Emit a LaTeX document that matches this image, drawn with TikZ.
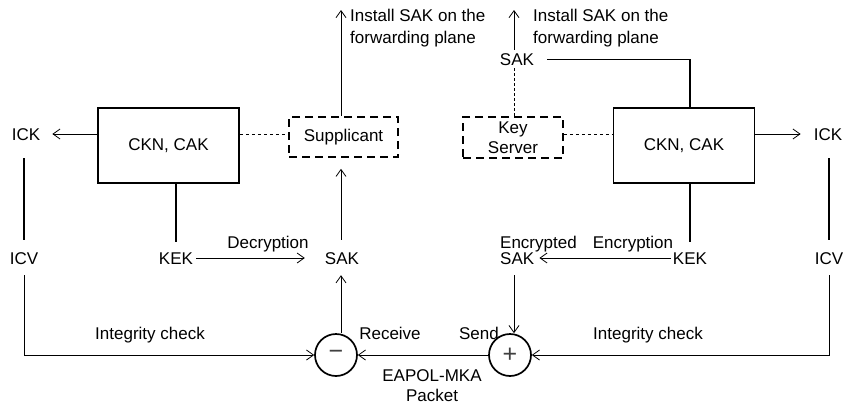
\documentclass[tikz,border=0pt]{standalone}
\usepackage{fontspec}
\setmainfont{Liberation Sans}
\usetikzlibrary{arrows.meta}
\begin{document}
\begin{tikzpicture}[x=1pt,y=-1pt,
  font=\fontsize{17}{21}\selectfont,
  lbl/.style={inner sep=0pt, text height=12pt, text depth=0pt},
  multi/.style={inner sep=0pt, align=center},
  keybox/.style={draw, line width=1.7pt, minimum width=141pt, minimum height=75pt, inner sep=0pt},
  rolebox/.style={draw, line width=1.6pt, dash pattern=on 8pt off 5pt, inner sep=0pt, align=center},
  opcircle/.style={draw, circle, line width=1.7pt, minimum size=42pt, inner sep=0pt,
    font=\fontsize{25}{25}\selectfont, text=black!75},
  conn/.style={line width=0.8pt},
  heavy/.style={line width=1.6pt},
  arr/.style={-{Straight Barb[length=7pt,width=10pt]}},
  link/.style={line width=0.9pt, dash pattern=on 3.5pt off 2.5pt},
  fine/.style={line width=0.8pt, dash pattern=on 3pt off 2pt}]
\useasboundingbox (0,0) rectangle (847,405);

% key hierarchy boxes
\node[keybox] (boxL) at (168.5,145.5) {CKN, CAK};
\node[keybox] (boxR) at (684,145.5) {CKN, CAK};
\node[rolebox, minimum width=109pt, minimum height=40pt] (supp) at (343.5,137) {Supplicant};
\node[rolebox, minimum width=100pt, minimum height=41pt, font=\fontsize{17}{20}\selectfont] (ks) at (513,137.5) {Key\\Server};

% derived keys
\node[lbl] (ickL) at (26,134) {ICK};
\node[lbl] (icvL) at (24,258) {ICV};
\node[lbl] (kekL) at (176,258) {KEK};
\node[lbl] (sakL) at (342,258) {SAK};
\node[lbl] (ickR) at (828,134) {ICK};
\node[lbl] (icvR) at (829,258) {ICV};
\node[lbl] (kekR) at (690,258) {KEK};
\node[lbl] (sakTop) at (517,59) {SAK};
\node[lbl, anchor=west] (encsak) at (500,258) {SAK};
\node[lbl, anchor=west] (enctxt) at (500,242) {Encrypted};

% send / receive operators
\node[opcircle] (minus) at (336,355) {−};
\node[opcircle] (plus) at (510,355) {+};

% free ends of the install arrows
\coordinate (instL) at (341,10);
\coordinate (instR) at (514,10);

% text labels
\node[multi, align=left, anchor=west, font=\fontsize{17}{22}\selectfont] (instLtxt) at (350,28) {Install SAK on the\\forwarding plane};
\node[multi, align=left, anchor=west, font=\fontsize{17}{22}\selectfont] (instRtxt) at (533,28) {Install SAK on the\\forwarding plane};
\node[lbl] (dec) at (268,242) {Decryption};
\node[lbl] (enc) at (633,242) {Encryption};
\node[lbl] (intL) at (150,333) {Integrity check};
\node[lbl] (intR) at (648,333) {Integrity check};
\node[lbl] (recv) at (390,333) {Receive};
\node[lbl] (send) at (479,333) {Send};
\node[multi, font=\fontsize{17}{20}\selectfont] (eapol) at (432,386) {EAPOL-MKA\\Packet};

% supplicant side
\draw[conn,arr,shorten >=12pt] (boxL.west |- ickL) -- (ickL.east);
\draw[link] (boxL.east |- ickL) -- (supp.west |- ickL);
\draw[heavy,shorten <=18pt,shorten >=12pt] (ickL.south -| icvL) -- (icvL.north);
\draw[heavy,shorten >=10pt] (kekL.north |- boxL.south) -- (kekL.north);
\draw[conn,arr,shorten <=3pt,shorten >=20pt] (kekL.east) -- (sakL.west);
\draw[conn,arr,shorten >=11pt] (instL |- minus.north) -- (instL |- sakL.south);
\draw[conn,arr,shorten <=12pt,shorten >=11pt] (instL |- sakL.north) -- (instL |- supp.south);
\draw[conn,arr] (instL |- supp.north) -- (instL);
\draw[conn,arr,shorten <=11pt] (icvL.south) |- (minus.west);

% key server side
\draw[conn,arr,shorten >=13pt] (boxR.east |- ickR) -- (ickR.west);
\draw[link] (ks.east |- ickR) -- (boxR.west |- ickR);
\draw[heavy,shorten <=18pt,shorten >=12pt] (ickR.south -| icvR) -- (icvR.north);
\draw[heavy,shorten >=10pt] (kekR.north |- boxR.south) -- (kekR.north);
\draw[conn,arr,shorten <=2pt,shorten >=5pt] (kekR.west) -- (encsak.east);
\draw[conn,arr,shorten <=11pt] (instR |- encsak.south) -- (instR |- plus.north);
\draw[fine,shorten >=3pt] (instR |- ks.north) -- (instR |- sakTop.south);
\draw[conn,arr,shorten <=3pt] (instR |- sakTop.north) -- (instR);
\draw[conn,shorten <=13pt] (sakTop.east) -- (kekR |- sakTop);
\draw[heavy] (kekR |- sakTop) -- (kekR |- boxR.north);
\draw[conn,arr,shorten <=11pt] (icvR.south) |- (plus.east);

% packet exchange
\draw[conn,arr] (plus.west) -- (minus.east);
\end{tikzpicture}
\end{document}
